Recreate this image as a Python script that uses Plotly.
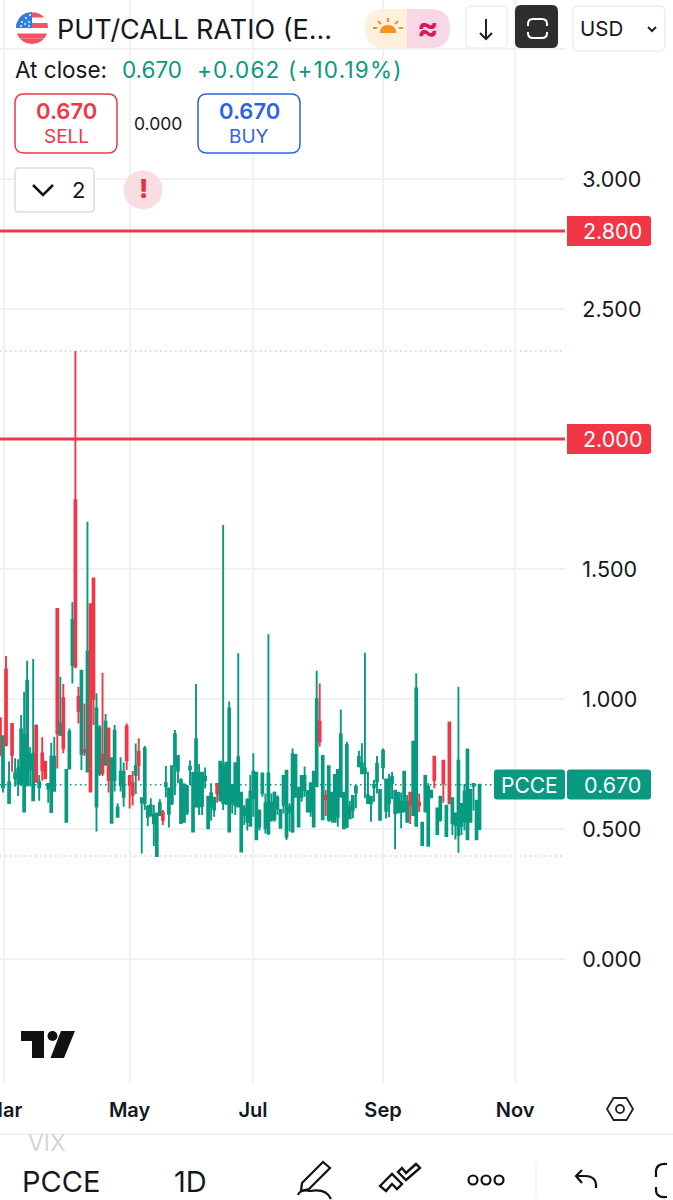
import numpy as np
import plotly.graph_objects as go

W, H = 673, 1200
FONT = "Inter"
GREEN = "#089981"
RED = "#F23645"
BLUE = "#2E62E8"
INK = "#131722"

opens = [
    .925, .66, 1.114, .60, .904, .695, .675, .675, .567, .669,
    .73, .61, .896, .66, .791, .759, .656, .565, .647, 1.346,
    .862, 1.003, .528, .733, 1.131, 1.765, 1.009, .788, .804, .721,
    1.365, 1.464, .586, .714, .785, .75, .887, .524, .688, .547,
    .669, .624, .894, .704, .676, .708, .797, .603, .599, .547,
    .554, .522, .396, .554, .563, .665, .558, .60, .742, .724,
    .524, .528, .563, .73, .49, .586, .586, .588, .688, .503,
    .586, .575, .673, .612, .60, .599, .49, .599, .592, .586,
    .413, .554, .528, .512, .618, .46, .509, .637, .503, .483,
    .535, .537, .58, .505, .592, .47, .563, .49, .624, .509,
    .624, .65, .567, .567, .509, .665, .913, .537, .627, .535,
    .535, .528, .547, .624, .503, .509, .541, .573, .64, .742,
    .714, .714, .60, .599, .66, .682, .535, .737, .57, .601,
    .676, .56, .563, .567, .567, .528, .64, .554, .512, .601,
    .438, .567, .435, .622, .778, .481, .535, .763, .473, .91,
    .522, .515, .477, .512, .528, .46, .528, .665, .46, .50,
]
highs = [
    .93, .86, 1.165, .76, .904, .772, .768, .938, 1.028, 1.147,
    .814, 1.154, .903, .708, .853, .759, .676, .832, .855, 1.346,
    1.086, 1.058, .727, .887, 1.372, 2.338, 1.047, 1.109, .983, 1.682,
    1.365, 1.464, 1.022, .90, 1.101, .942, .887, .772, .90, .599,
    .776, .756, .906, .704, .723, .829, .849, .618, .819, .592,
    .618, .592, .56, .614, .573, .742, .656, .742, .881, .781,
    .695, .676, .669, .763, .717, 1.058, .75, .717, .737, .624,
    .676, .624, .676, .759, 1.669, .755, .99, .673, .753, 1.176,
    .64, .592, .618, .708, .791, .717, .571, .714, .637, 1.249,
    .637, .644, .63, .576, .704, .724, .599, .81, .788, .663,
    .708, .74, .65, .678, .72, 1.109, 1.06, .781, .65, .742,
    .64, .708, .73, .96, .64, .836, .609, .631, .669, .801,
    .83, 1.178, .72, .624, .688, .781, .65, .81, .691, .712,
    .72, .647, .64, .64, .724, .631, .64, .836, 1.099, .637,
    .524, .708, .676, .65, .781, .579, .624, .765, .592, .91,
    .622, .56, 1.047, .599, .673, .81, .653, .676, .609, .673,
]
lows = [
    .78, .64, .817, .60, .72, .663, .627, .665, .565, .663,
    .663, .609, .682, .609, .686, .695, .601, .565, .647, .733,
    .858, .791, .528, .729, 1.06, 1.118, .906, .727, .781, .721,
    .644, .90, .49, .704, .704, .742, .64, .524, .644, .545,
    .644, .586, .727, .579, .59, .635, .686, .406, .573, .512,
    .547, .435, .396, .55, .515, .622, .506, .592, .631, .676,
    .519, .524, .554, .669, .49, .586, .554, .554, .656, .503,
    .532, .547, .601, .605, .573, .592, .49, .56, .554, .586,
    .413, .515, .494, .512, .547, .46, .494, .624, .483, .477,
    .528, .528, .555, .503, .56, .458, .49, .486, .624, .509,
    .605, .624, .567, .547, .509, .665, .817, .537, .55, .528,
    .524, .528, .509, .624, .499, .503, .541, .541, .58, .737,
    .714, .618, .599, .528, .605, .637, .532, .691, .54, .545,
    .614, .422, .563, .503, .563, .524, .519, .554, .509, .565,
    .438, .563, .435, .622, .656, .481, .528, .601, .473, .599,
    .477, .46, .409, .477, .494, .46, .524, .571, .46, .496,
]
closes = [
    .79, .857, .823, .68, .785, .715, .733, .883, .862, 1.07,
    .785, .79, .682, .68, .727, .695, .673, .778, .778, .868,
    .906, .81, .727, .874, 1.304, 1.125, .955, 1.109, .797, 1.182,
    .644, 1.0, .964, .89, .714, .913, .688, .772, .878, .583,
    .72, .72, .765, .669, .631, .742, .746, .618, .81, .586,
    .592, .554, .56, .599, .535, .676, .656, .742, .865, .781,
    .688, .668, .665, .74, .717, .845, .714, .717, .701, .624,
    .637, .62, .637, .759, .745, .755, .964, .669, .753, .776,
    .64, .58, .612, .644, .72, .717, .571, .714, .599, .714,
    .601, .64, .62, .573, .704, .724, .586, .788, .785, .656,
    .704, .704, .644, .676, .72, .999, .836, .781, .614, .742,
    .64, .708, .727, .865, .64, .823, .586, .627, .663, .778,
    .753, .733, .63, .624, .67, .75, .65, .801, .691, .691,
    .701, .647, .64, .605, .72, .605, .592, .836, 1.041, .591,
    .524, .704, .663, .647, .688, .579, .624, .676, .59, .599,
    .618, .56, .763, .596, .644, .806, .65, .673, .609, .67,
]

month_labels = ["Mar", "May", "Jul", "Sep", "Nov"]
month_bars = [1.16, 42.97, 83.9, 127, 170.8]
price_ticks = [0, 0.5, 1, 1.5, 2, 2.5, 3, 3.5]
# 2.000 sits under its alert tag and 3.500 under the header
price_labels = ["0.000", "0.500", "1.000", "1.500", "", "2.500", "3.000", ""]
alert_levels = [2.8, 2.0]
last_price = 0.67

X = lambda x: x / W
Y = lambda y: 1 - y / H
PLOT_R = 565
PLOT_B = 1083

fig = go.Figure()
fig.add_trace(go.Candlestick(
    x=np.arange(len(closes)),
    open=opens, high=highs, low=lows, close=closes,
    increasing=dict(line=dict(color=GREEN, width=1.9), fillcolor=GREEN),
    decreasing=dict(line=dict(color=RED, width=1.9), fillcolor=RED),
    hoverinfo="skip",
    showlegend=False,
))

shapes = []
notes = []


def path(cmds, fill=None, line=None, width=0):
    # cmds like "M", x, y, "L", x, y ... in pixel coordinates of the page
    out = []
    is_x = True
    for c in cmds:
        if isinstance(c, str):
            out.append(c)
            is_x = True
        else:
            out.append(f"{X(c):.5f}" if is_x else f"{Y(c):.5f}")
            is_x = not is_x
    shapes.append(dict(
        type="path", xref="paper", yref="paper", path=" ".join(out), layer="above",
        fillcolor=fill or "rgba(0,0,0,0)",
        line=dict(color=line or "rgba(0,0,0,0)", width=width),
    ))


def rrect(x0, y0, x1, y1, r=4, fill="white", line=None, width=0, rl=True, rr=True):
    a = r if rl else 0
    b = r if rr else 0
    path(["M", x0 + a, y0, "L", x1 - b, y0, "Q", x1, y0, x1, y0 + b,
          "L", x1, y1 - b, "Q", x1, y1, x1 - b, y1,
          "L", x0 + a, y1, "Q", x0, y1, x0, y1 - a,
          "L", x0, y0 + a, "Q", x0, y0, x0 + a, y0, "Z"], fill, line, width)


def circle(cx, cy, r, fill=None, line=None, width=0):
    shapes.append(dict(
        type="circle", xref="paper", yref="paper", layer="above",
        x0=X(cx - r), x1=X(cx + r), y0=Y(cy + r), y1=Y(cy - r),
        fillcolor=fill or "rgba(0,0,0,0)",
        line=dict(color=line or "rgba(0,0,0,0)", width=width),
    ))


def text(x, y, s, size, color=INK, anchor="center", weight=400):
    notes.append(dict(
        x=X(x), y=Y(y), xref="paper", yref="paper", text=s, showarrow=False,
        xanchor=anchor, yanchor="middle", align=anchor, borderpad=0, borderwidth=0,
        font=dict(family=FONT, size=size, color=color, weight=weight),
    ))


# price levels, in data coordinates
for lvl in alert_levels:
    shapes.append(dict(type="line", xref="x domain", yref="y", x0=0, x1=1, y0=lvl, y1=lvl,
                       line=dict(color=RED, width=3), layer="above"))
for lvl in [max(highs), min(lows)]:
    shapes.append(dict(type="line", xref="x domain", yref="y", x0=0, x1=0.996, y0=lvl, y1=lvl,
                       line=dict(color="#F7BCC3", width=1.5, dash="1.5px,3.5px"), layer="below"))
shapes.append(dict(type="line", xref="x domain", yref="y", x0=0, x1=1, y0=last_price, y1=last_price,
                   line=dict(color=GREEN, width=1.5, dash="1.5px,3.5px"), layer="below"))

# price tags
for top, lab in [(216, "2.800"), (424, "2.000")]:
    rrect(567, top, 651, top + 30, 3, RED, rl=False)
    text(612, top + 15, lab, 21.5, "white")
rrect(494, 769.5, 565, 799.5, 3, GREEN)
rrect(567, 769.5, 651, 799.5, 3, GREEN)
text(529, 785, "PCCE", 21, "white")
text(612, 785, "0.670", 21.5, "white")

# header: flag
circle(32, 28, 16, "white")
for y0, y1 in [(12.5, 17.5), (23, 28), (33.5, 38.5), (38.5, 44)]:
    ys = np.linspace(y0, y1, 8)
    xs = np.sqrt(np.maximum(16 ** 2 - (ys - 28) ** 2, 0))
    cmds = ["M", 32 - xs[0], ys[0]]
    for a, b in zip(32 + xs, ys):
        cmds += ["L", float(a), float(b)]
    for a, b in zip(32 - xs[::-1], ys[::-1]):
        cmds += ["L", float(a), float(b)]
    path(cmds + ["Z"], "#F2545F")
ys = np.linspace(12, 28, 10)
xs = np.sqrt(np.maximum(16 ** 2 - (ys - 28) ** 2, 0))
cmds = ["M", 32, 12]
for a, b in zip(32 - xs, ys):
    cmds += ["L", float(a), float(b)]
path(cmds + ["L", 32, 28, "Z"], "#2F7DE1")
for sx, sy in [(22, 22), (26, 18), (30, 15), (25, 24), (29, 22), (29, 26), (21, 26)]:
    circle(sx, sy, 0.9, "white")

text(57, 29, "PUT/CALL RATIO (E...", 27, INK, "left")
text(15, 69, "At close:", 22.5, INK, "left")
text(122, 69, "0.670", 22.5, GREEN, "left")
text(197, 69, "+0.062 (+10.19%)", 22.5, GREEN, "left")

# session pills
path(["M", 407, 9, "L", 407, 48, "L", 384, 48, "Q", 365, 48, 365, 28.5, "Q", 365, 9, 384, 9, "Z"], "#FDF0DC")
path(["M", 407, 9, "L", 407, 48, "L", 431, 48, "Q", 450, 48, 450, 28.5, "Q", 450, 9, 431, 9, "Z"], "#F9D8E5")
path(["M", 380, 33, "Q", 380, 25, 388, 25, "Q", 396, 25, 396, 33, "Z"], "#F7931A")
for x0, y0, x1, y1 in [(388, 18, 388, 22), (378, 21, 381, 24), (398, 21, 395, 24), (373, 28, 377, 28), (403, 28, 399, 28)]:
    path(["M", x0, y0, "L", x1, y1], None, "#F7931A", 2)
text(428, 28, "≈", 32, "#D81B60", weight=700)

# header buttons
rrect(466, 6, 507, 48, 5, "white", "#EFEFEF", 1.5)
path(["M", 486, 19, "L", 486, 39, "M", 480, 33, "L", 486, 39, "L", 492, 33], None, "#222", 2)
rrect(515, 5, 558, 48, 6, "#2E2E2E")
path(["M", 528, 26, "L", 528, 24, "Q", 528, 19, 533, 19, "L", 542, 19, "Q", 547, 19, 547, 24, "L", 547, 26], None, "white", 2)
path(["M", 528, 32, "L", 528, 33, "Q", 528, 38, 533, 38, "L", 542, 38, "Q", 547, 38, 547, 33, "L", 547, 32], None, "white", 2)
rrect(573, 6, 665, 51, 6, "white", "#EDEDED", 1.5)
text(580, 28.5, "USD", 20.5, INK, "left")
path(["M", 648, 27, "L", 652, 31, "L", 656, 27], None, "#222", 2)

# order buttons
rrect(15, 94, 117, 153, 9, "white", RED, 1.5)
text(66, 111, "0.670", 22, RED, weight=600)
text(66, 137, "SELL", 19, RED)
text(158, 123, "0.000", 17.5, INK)
rrect(198, 94, 300, 153, 9, "white", BLUE, 1.5)
text(249, 111, "0.670", 22, BLUE, weight=600)
text(249, 137, "BUY", 19, BLUE)

# collapse button and alert
rrect(15, 168, 94, 212, 4, "white", "#DCDCDC", 1.5)
path(["M", 33, 185, "L", 43, 195, "L", 53, 185], None, "#111", 2.5)
text(78, 190, "2", 22, INK)
circle(143, 190, 19.5, "#F9DEE1")
text(143, 189, "!", 26, "#E5323F", weight=800)

# tradingview mark
path(["M", 21, 1031, "L", 44, 1031, "L", 44, 1058, "L", 32, 1058, "L", 32, 1041, "L", 21, 1041, "Z"], "#111")
circle(52.5, 1036, 5, "#111")
path(["M", 61, 1031, "L", 75, 1031, "L", 64, 1058, "L", 50.5, 1058, "Z"], "#111")

# settings hexagon in the time scale
path(["M", 607, 1109, "L", 613.5, 1098, "L", 626.5, 1098, "L", 633, 1109, "L", 626.5, 1120, "L", 613.5, 1120, "Z"], None, "#222", 1.8)
circle(620, 1109, 4, None, "#222", 1.8)

# bottom toolbar
path(["M", 0, 1134, "L", 673, 1134], None, "#EEEEEE", 1.5)
text(47, 1143, "VIX", 23, "#D6D6D6")
text(61.5, 1181, "PCCE", 29, INK)
text(190, 1181, "1D", 29, INK)
# pencil
path(["M", 302, 1183, "L", 323, 1162, "L", 330, 1168, "L", 309, 1189, "L", 301, 1191, "Z"], None, "#111", 2.2)
path(["M", 298, 1195, "Q", 300, 1189, 310, 1191, "Q", 326, 1188, 331, 1199], None, "#111", 2.2)
# pattern tool
path(["M", 380, 1186, "L", 392, 1174, "L", 402, 1184, "L", 397, 1189, "L", 392, 1184, "L", 386, 1191, "Z"], None, "#111", 2.4)
path(["M", 398, 1172, "L", 406, 1180, "L", 420, 1168, "L", 416, 1164, "L", 406, 1173, "L", 402, 1168, "Z"], None, "#111", 2.4)
for cx in [473, 486, 499]:
    circle(cx, 1180, 4.5, None, "#111", 2.2)
path(["M", 536, 1164, "L", 536, 1196], None, "#F1F1F1", 1.5)
path(["M", 596, 1188, "Q", 597, 1176, 585, 1176, "L", 576, 1176, "M", 582, 1170, "L", 576, 1176, "L", 582, 1183], None, "#111", 2.2)
path(["M", 667, 1164, "Q", 656, 1163, 656, 1172, "L", 656, 1177, "M", 656, 1187, "L", 656, 1190, "Q", 656, 1198, 667, 1197], None, "#111", 2.2)

fig.update_layout(
    width=W, height=H,
    margin=dict(l=0, r=0, t=0, b=0),
    paper_bgcolor="white", plot_bgcolor="white",
    shapes=shapes, annotations=notes,
    showlegend=False,
    boxgap=0.15,
    xaxis=dict(
        domain=[0, X(PLOT_R)], range=[0, PLOT_R / 3.016],
        tickmode="array", tickvals=month_bars, ticktext=month_labels,
        showgrid=True, gridcolor="#F0F1F3", gridwidth=1.5,
        zeroline=False, showline=False, automargin=False,
        ticks="outside", ticklen=9, tickcolor="rgba(0,0,0,0)",
        tickfont=dict(family=FONT, size=20, color=INK, weight=600),
        ticklabeloverflow="allow",
        rangeslider=dict(visible=False),
    ),
    yaxis=dict(
        domain=[Y(PLOT_B), 1], range=[(959 - PLOT_B) / 260, 959 / 260],
        side="right", automargin=False,
        tickmode="array", tickvals=price_ticks, ticktext=price_labels,
        showgrid=True, gridcolor="#F0F1F3", gridwidth=1.5,
        zeroline=False, showline=False,
        ticks="outside", ticklen=12, tickcolor="rgba(0,0,0,0)",
        tickfont=dict(family=FONT, size=21.5, color=INK),
    ),
)

# page margin off; the change line is tracked wider in the app
post = """
document.body.style.margin = '0';
document.querySelectorAll('.annotation-text').forEach(function (t) {
    if (t.textContent.indexOf('+0.062') === 0) t.style.letterSpacing = '1.2px';
});
"""
fig.write_html("out.html", config=dict(displayModeBar=False), post_script=post)
